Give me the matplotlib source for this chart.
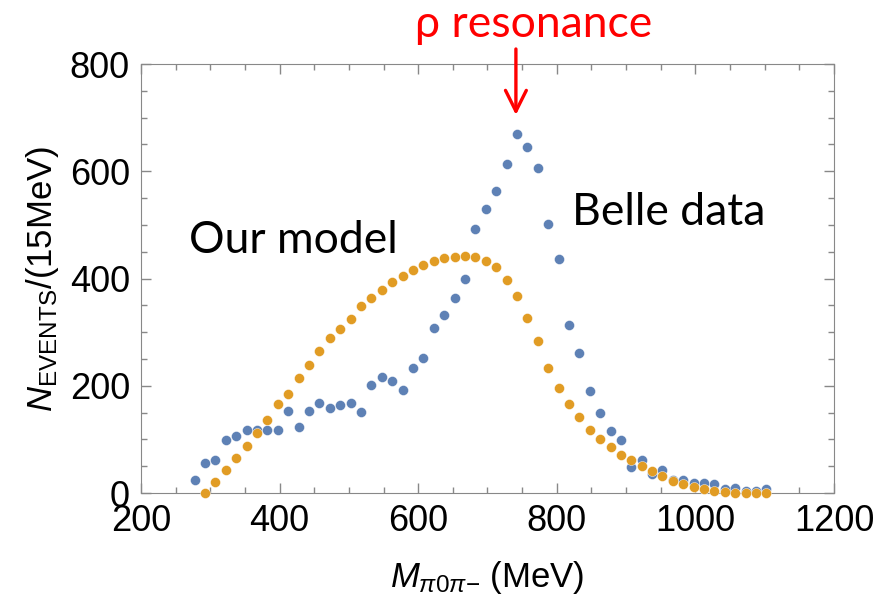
import numpy as np
import matplotlib
matplotlib.use("Agg")
import matplotlib.pyplot as plt
from matplotlib.ticker import MultipleLocator

# 15 MeV bins, centres from 277.5 MeV
mass = np.arange(56) * 15 + 277.5

belle = [25, 56, 61, 98, 107, 118, 118, 118, 117, 153,
         123, 153, 167, 158, 164, 168, 151, 202, 216, 208,
         193, 234, 251, 307, 332, 364, 399, 493, 529, 564,
         614, 669, 645, 607, 502, 437, 313, 262, 191, 149,
         116, 98, 49, 62, 35, 42, 25, 24, 19, 18,
         17, 8, 9, 4, 4, 8]

# model starts at the second bin
model = [0, 20, 42, 65, 88, 112, 137, 166, 185,
         215, 239, 264, 289, 305, 325, 349, 364, 379, 394,
         405, 416, 425, 432, 438, 441, 442, 440, 433, 422,
         397, 368, 327, 284, 234, 196, 166, 141, 117, 101,
         86, 71, 62, 50, 41, 32, 23, 17, 11, 7.5,
         4, 1, 0, 0, 0, 0]

plt.rcParams['font.family'] = ['Liberation Sans', 'DejaVu Sans']
plt.rcParams['mathtext.fontset'] = 'custom'
plt.rcParams['mathtext.rm'] = 'Liberation Sans'
plt.rcParams['mathtext.it'] = 'Liberation Sans:italic'

fig = plt.figure(figsize=(8.79, 6.01), dpi=100)
ax = fig.add_axes([0.1604, 0.1797, 0.7884, 0.7138])

ax.scatter(mass, belle, s=52, c='#5E81B5', edgecolors='white', linewidths=0.3, zorder=3, clip_on=False)
ax.scatter(mass[1:], model, s=52, c='#E19C24', edgecolors='white', linewidths=0.3, zorder=4, clip_on=False)

ax.set_xlim(200, 1200)
ax.set_ylim(0, 800)
ax.xaxis.set_major_locator(MultipleLocator(200))
ax.xaxis.set_minor_locator(MultipleLocator(50))
ax.yaxis.set_major_locator(MultipleLocator(200))
ax.yaxis.set_minor_locator(MultipleLocator(50))
ax.tick_params(which='both', direction='in', top=True, right=True, color='#888888', width=1)
ax.tick_params(which='major', length=7, labelsize=26, pad=8)
ax.tick_params(which='minor', length=4)
for sp in ax.spines.values():
    sp.set_color('#888888')

ax.set_xlabel(r'$M_{\pi0\pi{-}}$ (MeV)', fontsize=25, labelpad=14)
ax.set_ylabel(r'$N_{\rm EVENTS}$/(15MeV)', fontsize=25, labelpad=6)

# annotations
ann_font = ['Lato', 'DejaVu Sans']
ax.text(269, 448, 'Our model', fontsize=32, family=ann_font)
ax.text(822, 500, 'Belle data', fontsize=32, family=ann_font)
ax.text(766, 850, 'ρ resonance', fontsize=32, color='red', family=ann_font,
        ha='center', clip_on=False)
ax.annotate('', xy=(741, 705), xytext=(741, 828), annotation_clip=False,
            arrowprops=dict(arrowstyle='->, head_length=1.0, head_width=0.5',
                            color='red', lw=2.4, mutation_scale=15,
                            shrinkA=0, shrinkB=0))

fig.savefig('out.png', dpi=100)
